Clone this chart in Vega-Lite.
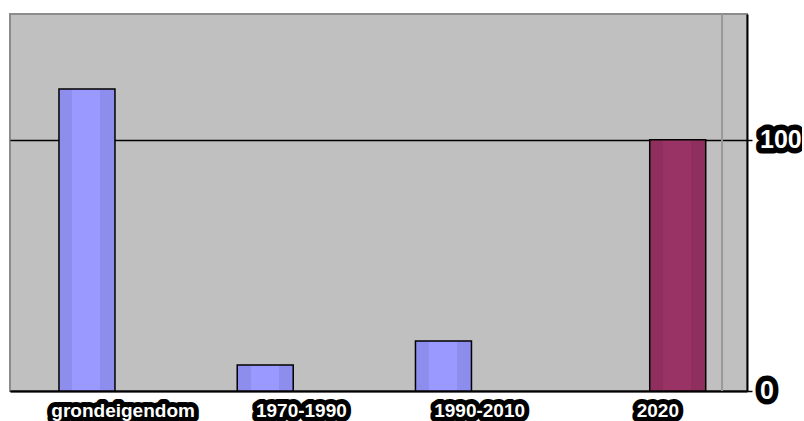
{
  "$schema": "https://vega.github.io/schema/vega-lite/v6.json",
  "width": 737,
  "height": 377,
  "padding": {"left": 10, "top": 13, "right": 0, "bottom": 0},
  "background": "white",
  "config": {
    "view": {"fill": "#c0c0c0", "stroke": "#8c8c8c", "strokeWidth": 2},
    "font": "Liberation Sans"
  },
  "data": {
    "values": [
      {"period": "grondeigendom", "series": "a", "value": 120.2},
      {"period": "1970-1990", "series": "a", "value": 10.3},
      {"period": "1990-2010", "series": "a", "value": 19.9},
      {"period": "2020", "series": "b", "value": 100}
    ]
  },
  "layer": [
    {
      "transform": [{"filter": "datum.series === 'a'"}],
      "mark": {
        "type": "bar",
        "fill": {
          "gradient": "linear", "x1": 0, "y1": 0, "x2": 1, "y2": 0,
          "stops": [
            {"offset": 0, "color": "#8d8dee"},
            {"offset": 0.24, "color": "#8d8dee"},
            {"offset": 0.24, "color": "#9999ff"},
            {"offset": 0.74, "color": "#9999ff"},
            {"offset": 0.74, "color": "#8d8dee"},
            {"offset": 1, "color": "#8d8dee"}
          ]
        },
        "stroke": "black",
        "strokeWidth": 1.5
      },
      "encoding": {
        "x": {
          "field": "period", "type": "nominal",
          "scale": {"domain": ["grondeigendom", "1970-1990", "1990-2010", "2020"], "paddingInner": 0, "paddingOuter": 0.0673, "align": 1},
          "axis": {
            "title": null, "orient": "bottom", "zindex": 0,
            "domainColor": "black", "domainWidth": 2,
            "ticks": false, "tickSize": 0, "labels": false
          }
        },
        "xOffset": {
          "field": "series", "type": "nominal",
          "scale": {"domain": ["a", "b"], "paddingInner": 0, "paddingOuter": 0.5915, "align": 0.377}
        },
        "y": {
          "field": "value", "type": "quantitative",
          "scale": {"domain": [0, 150], "nice": false},
          "axis": {
            "title": null, "orient": "right", "zindex": 0, "values": [0, 100],
            "domainColor": "black", "domainWidth": 2,
            "ticks": true, "tickColor": "black", "tickSize": 5, "tickWidth": 1.5,
            "grid": true, "gridColor": "black", "gridWidth": 1.5, "gridOpacity": 1,
            "labels": false
          }
        }
      }
    },
    {
      "transform": [{"filter": "datum.series === 'b'"}],
      "mark": {
        "type": "bar",
        "fill": {
          "gradient": "linear", "x1": 0, "y1": 0, "x2": 1, "y2": 0,
          "stops": [
            {"offset": 0, "color": "#8e2f5e"},
            {"offset": 0.24, "color": "#8e2f5e"},
            {"offset": 0.24, "color": "#993366"},
            {"offset": 0.74, "color": "#993366"},
            {"offset": 0.74, "color": "#8e2f5e"},
            {"offset": 1, "color": "#8e2f5e"}
          ]
        },
        "stroke": "black",
        "strokeWidth": 1.5
      },
      "encoding": {
        "x": {"field": "period", "type": "nominal"},
        "xOffset": {"field": "series", "type": "nominal"},
        "y": {"field": "value", "type": "quantitative"}
      }
    },
    {
      "data": {"values": [{"mark": "divider"}]},
      "mark": {"type": "rule", "color": "#999999", "strokeWidth": 2},
      "encoding": {
        "x": {"datum": "2020", "type": "nominal", "bandPosition": 0.86}
      }
    },
    {
      "mark": {"type": "text", "clip": false, "font": "Liberation Sans", "fontSize": 19, "fontWeight": "bold", "baseline": "middle", "align": "center", "fill": "black", "stroke": "black", "strokeWidth": 10, "strokeJoin": "round"},
      "encoding": {
        "x": {"field": "period", "type": "nominal"},
        "y": {"datum": -8},
        "text": {"field": "period"}
      }
    },
    {
      "mark": {"type": "text", "clip": false, "font": "Liberation Sans", "fontSize": 19, "fontWeight": "bold", "baseline": "middle", "align": "center", "fill": "white"},
      "encoding": {
        "x": {"field": "period", "type": "nominal"},
        "y": {"datum": -8},
        "text": {"field": "period"}
      }
    },
    {
      "data": {"values": [{"tick": 0}, {"tick": 100}]},
      "mark": {"type": "text", "clip": false, "font": "Liberation Sans", "fontSize": 25, "fontWeight": "bold", "baseline": "middle", "align": "left", "fill": "black", "stroke": "black", "strokeWidth": 11, "strokeJoin": "round"},
      "encoding": {
        "x": {"datum": "2020", "bandPosition": 1.073},
        "y": {"field": "tick", "type": "quantitative"},
        "text": {"field": "tick"}
      }
    },
    {
      "data": {"values": [{"tick": 0}, {"tick": 100}]},
      "mark": {"type": "text", "clip": false, "font": "Liberation Sans", "fontSize": 25, "fontWeight": "bold", "baseline": "middle", "align": "left", "fill": "white"},
      "encoding": {
        "x": {"datum": "2020", "bandPosition": 1.073},
        "y": {"field": "tick", "type": "quantitative"},
        "text": {"field": "tick"}
      }
    }
  ]
}
